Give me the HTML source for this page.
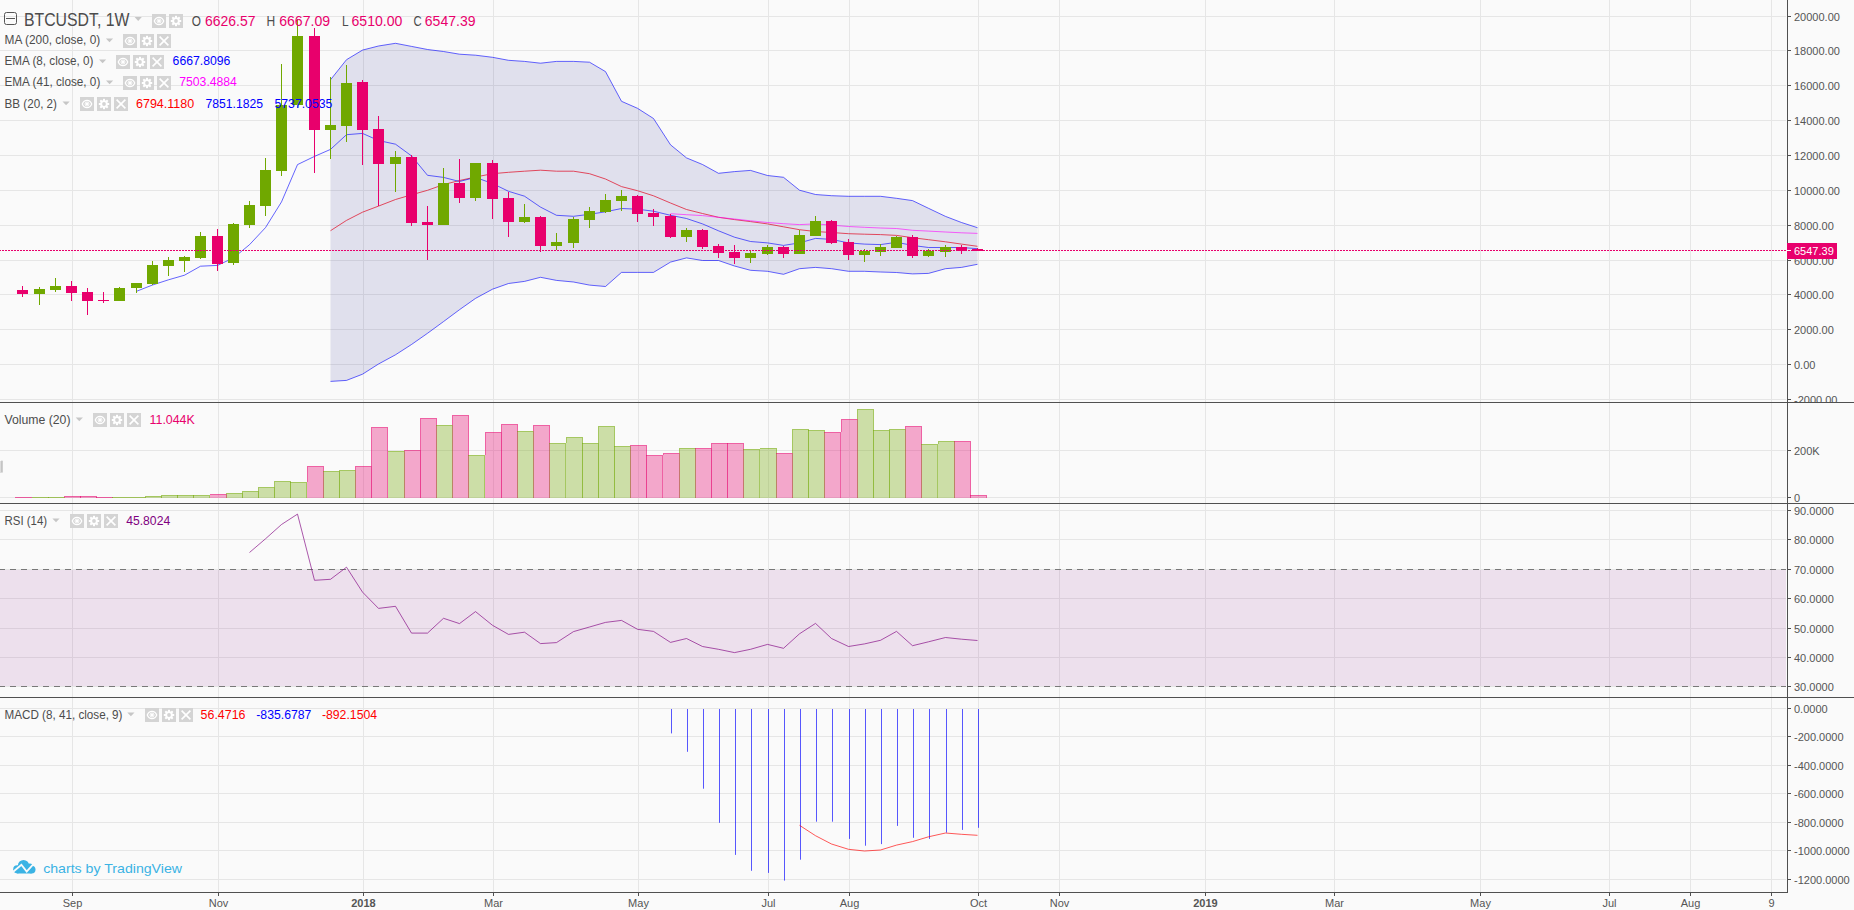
<!DOCTYPE html><html><head><meta charset="utf-8"><style>html,body{margin:0;padding:0;background:#fafafa;}svg{display:block;}text{font-family:"Liberation Sans",sans-serif;}</style></head><body>
<svg width="1854" height="910" viewBox="0 0 1854 910">
<rect x="0" y="0" width="1854" height="910" fill="#fafafa"/>
<defs><clipPath id="cMain"><rect x="0" y="0" width="1787" height="402"/></clipPath><clipPath id="cVol"><rect x="0" y="403" width="1787" height="100"/></clipPath><clipPath id="cRsi"><rect x="0" y="504" width="1787" height="193"/></clipPath><clipPath id="cMacd"><rect x="0" y="698" width="1787" height="194"/></clipPath><clipPath id="cAxMain"><rect x="1788" y="0" width="66" height="402"/></clipPath></defs>
<g fill="#e6e6e6"><rect x="72" y="0" width="1" height="892"/><rect x="218" y="0" width="1" height="892"/><rect x="363" y="0" width="1" height="892"/><rect x="493" y="0" width="1" height="892"/><rect x="638" y="0" width="1" height="892"/><rect x="768" y="0" width="1" height="892"/><rect x="849" y="0" width="1" height="892"/><rect x="978" y="0" width="1" height="892"/><rect x="1059" y="0" width="1" height="892"/><rect x="1205" y="0" width="1" height="892"/><rect x="1334" y="0" width="1" height="892"/><rect x="1480" y="0" width="1" height="892"/><rect x="1609" y="0" width="1" height="892"/><rect x="1690" y="0" width="1" height="892"/><rect x="1771" y="0" width="1" height="892"/><rect x="0" y="16" width="1786" height="1"/><rect x="0" y="50" width="1786" height="1"/><rect x="0" y="85" width="1786" height="1"/><rect x="0" y="120" width="1786" height="1"/><rect x="0" y="155" width="1786" height="1"/><rect x="0" y="190" width="1786" height="1"/><rect x="0" y="225" width="1786" height="1"/><rect x="0" y="260" width="1786" height="1"/><rect x="0" y="294" width="1786" height="1"/><rect x="0" y="329" width="1786" height="1"/><rect x="0" y="364" width="1786" height="1"/><rect x="0" y="399" width="1786" height="1"/><rect x="0" y="450" width="1786" height="1"/><rect x="0" y="497" width="1786" height="1"/><rect x="0" y="510" width="1786" height="1"/><rect x="0" y="539" width="1786" height="1"/><rect x="0" y="569" width="1786" height="1"/><rect x="0" y="598" width="1786" height="1"/><rect x="0" y="628" width="1786" height="1"/><rect x="0" y="657" width="1786" height="1"/><rect x="0" y="686" width="1786" height="1"/><rect x="0" y="708" width="1786" height="1"/><rect x="0" y="736" width="1786" height="1"/><rect x="0" y="765" width="1786" height="1"/><rect x="0" y="793" width="1786" height="1"/><rect x="0" y="822" width="1786" height="1"/><rect x="0" y="850" width="1786" height="1"/><rect x="0" y="879" width="1786" height="1"/></g>
<g clip-path="url(#cMain)">
<polygon points="330.5,79.8 346.5,59.7 362.5,50.1 378.5,46.0 395.5,43.3 411.5,46.4 427.5,49.5 443.5,51.5 459.5,54.2 475.5,55.2 492.5,57.3 508.5,60.3 524.5,61.4 540.5,63.2 556.5,61.4 573.5,61.4 589.5,62.2 605.5,71.6 621.5,101.3 637.5,108.3 653.5,118.5 670.5,144.8 686.5,157.9 702.5,164.5 718.5,173.3 734.5,171.6 750.5,170.4 767.5,175.5 783.5,177.3 799.5,190.2 815.5,194.5 831.5,195.7 848.5,196.3 864.5,196.3 880.5,196.3 896.5,198.3 912.5,200.6 928.5,208.3 945.5,216.4 961.5,222.5 977.5,227.7 977.5,264.3 961.5,267.4 945.5,268.7 928.5,273.4 912.5,273.9 896.5,272.5 880.5,272.0 864.5,271.3 848.5,271.3 831.5,268.7 815.5,267.4 799.5,268.7 783.5,274.3 767.5,271.3 750.5,270.3 734.5,266.0 718.5,260.5 702.5,260.5 686.5,257.9 670.5,262.1 653.5,272.4 637.5,272.4 621.5,272.4 605.5,286.5 589.5,285.1 573.5,282.0 556.5,280.4 540.5,277.3 524.5,281.4 508.5,283.5 492.5,289.2 475.5,298.4 459.5,309.7 443.5,321.6 427.5,333.3 411.5,344.5 395.5,354.8 378.5,364.0 362.5,374.2 346.5,380.4 330.5,381.4" fill="#000080" fill-opacity="0.1"/>
<polyline points="330.5,79.8 346.5,59.7 362.5,50.1 378.5,46.0 395.5,43.3 411.5,46.4 427.5,49.5 443.5,51.5 459.5,54.2 475.5,55.2 492.5,57.3 508.5,60.3 524.5,61.4 540.5,63.2 556.5,61.4 573.5,61.4 589.5,62.2 605.5,71.6 621.5,101.3 637.5,108.3 653.5,118.5 670.5,144.8 686.5,157.9 702.5,164.5 718.5,173.3 734.5,171.6 750.5,170.4 767.5,175.5 783.5,177.3 799.5,190.2 815.5,194.5 831.5,195.7 848.5,196.3 864.5,196.3 880.5,196.3 896.5,198.3 912.5,200.6 928.5,208.3 945.5,216.4 961.5,222.5 977.5,227.7" fill="none" stroke="#0000ff" stroke-opacity="0.6" stroke-width="1"/>
<polyline points="330.5,381.4 346.5,380.4 362.5,374.2 378.5,364.0 395.5,354.8 411.5,344.5 427.5,333.3 443.5,321.6 459.5,309.7 475.5,298.4 492.5,289.2 508.5,283.5 524.5,281.4 540.5,277.3 556.5,280.4 573.5,282.0 589.5,285.1 605.5,286.5 621.5,272.4 637.5,272.4 653.5,272.4 670.5,262.1 686.5,257.9 702.5,260.5 718.5,260.5 734.5,266.0 750.5,270.3 767.5,271.3 783.5,274.3 799.5,268.7 815.5,267.4 831.5,268.7 848.5,271.3 864.5,271.3 880.5,272.0 896.5,272.5 912.5,273.9 928.5,273.4 945.5,268.7 961.5,267.4 977.5,264.3" fill="none" stroke="#0000ff" stroke-opacity="0.6" stroke-width="1"/>
<polyline points="330.5,230.7 346.5,220.4 362.5,212.2 378.5,206.1 395.5,199.5 411.5,194.8 427.5,190.3 443.5,184.6 459.5,180.5 475.5,177.0 492.5,173.7 508.5,172.3 524.5,171.2 540.5,170.2 556.5,171.2 573.5,171.2 589.5,173.7 605.5,179.0 621.5,186.6 637.5,190.7 653.5,195.8 670.5,203.0 686.5,209.5 702.5,213.5 718.5,217.3 734.5,219.6 750.5,221.6 767.5,223.9 783.5,226.8 799.5,229.7 815.5,231.5 831.5,232.5 848.5,233.7 864.5,234.2 880.5,234.6 896.5,235.4 912.5,237.7 928.5,239.7 945.5,241.8 961.5,244.1 977.5,246.3" fill="none" stroke="#e02038" stroke-opacity="0.8" stroke-width="1"/>
<polyline points="136.5,291.3 152.5,285.0 168.5,279.8 184.5,275.2 200.5,266.2 217.5,265.4 233.5,257.9 249.5,244.7 265.5,227.6 281.5,201.9 297.5,164.6 314.5,156.4 330.5,149.4 346.5,134.7 362.5,133.4 378.5,140.5 395.5,144.2 411.5,155.9 427.5,175.3 443.5,177.4 459.5,181.5 475.5,177.4 492.5,183.5 508.5,191.3 524.5,196.2 540.5,207.1 556.5,215.3 573.5,216.3 589.5,214.3 605.5,211.8 621.5,208.5 637.5,209.2 653.5,211.2 670.5,215.3 686.5,218.5 702.5,223.9 718.5,230.8 734.5,237.2 750.5,241.5 767.5,242.9 783.5,245.4 799.5,242.9 815.5,238.4 831.5,239.4 848.5,242.9 864.5,244.1 880.5,244.6 896.5,242.3 912.5,245.4 928.5,247.5 945.5,247.5 961.5,247.5 977.5,248.7" fill="none" stroke="#0000ff" stroke-opacity="0.6" stroke-width="1"/>
<polyline points="670.5,213.7 686.5,214.7 702.5,215.6 718.5,217.3 734.5,219.0 750.5,220.8 767.5,222.5 783.5,223.7 799.5,224.6 815.5,223.9 831.5,225.1 848.5,226.5 864.5,227.3 880.5,228.0 896.5,228.5 912.5,230.3 928.5,231.1 945.5,232.0 961.5,232.8 977.5,233.4" fill="none" stroke="#ff00ff" stroke-opacity="0.6" stroke-width="1"/>
<rect x="22" y="286" width="1" height="11" fill="#e8006c"/><rect x="17" y="290" width="11" height="4" fill="#e8006c"/><rect x="39" y="287" width="1" height="18" fill="#70a800"/><rect x="34" y="289" width="11" height="5" fill="#70a800"/><rect x="55" y="278" width="1" height="14" fill="#70a800"/><rect x="50" y="286" width="11" height="4" fill="#70a800"/><rect x="71" y="281" width="1" height="20" fill="#e8006c"/><rect x="66" y="286" width="11" height="7" fill="#e8006c"/><rect x="87" y="288" width="1" height="27" fill="#e8006c"/><rect x="82" y="292" width="11" height="9" fill="#e8006c"/><rect x="103" y="292" width="1" height="11" fill="#e8006c"/><rect x="98" y="300" width="11" height="1" fill="#e8006c"/><rect x="119" y="287" width="1" height="14" fill="#70a800"/><rect x="114" y="288" width="11" height="13" fill="#70a800"/><rect x="136" y="283" width="1" height="10" fill="#70a800"/><rect x="131" y="283" width="11" height="5" fill="#70a800"/><rect x="152" y="261" width="1" height="24" fill="#70a800"/><rect x="147" y="265" width="11" height="19" fill="#70a800"/><rect x="168" y="257" width="1" height="19" fill="#70a800"/><rect x="163" y="260" width="11" height="6" fill="#70a800"/><rect x="184" y="256" width="1" height="16" fill="#70a800"/><rect x="179" y="257" width="11" height="4" fill="#70a800"/><rect x="200" y="232" width="1" height="27" fill="#70a800"/><rect x="195" y="236" width="11" height="22" fill="#70a800"/><rect x="217" y="229" width="1" height="42" fill="#e8006c"/><rect x="212" y="236" width="11" height="28" fill="#e8006c"/><rect x="233" y="223" width="1" height="42" fill="#70a800"/><rect x="228" y="224" width="11" height="39" fill="#70a800"/><rect x="249" y="201" width="1" height="27" fill="#70a800"/><rect x="244" y="205" width="11" height="20" fill="#70a800"/><rect x="265" y="158" width="1" height="58" fill="#70a800"/><rect x="260" y="170" width="11" height="36" fill="#70a800"/><rect x="281" y="64" width="1" height="112" fill="#70a800"/><rect x="276" y="105" width="11" height="66" fill="#70a800"/><rect x="297" y="19" width="1" height="89" fill="#70a800"/><rect x="292" y="36" width="11" height="69" fill="#70a800"/><rect x="314" y="28" width="1" height="145" fill="#e8006c"/><rect x="309" y="36" width="11" height="94" fill="#e8006c"/><rect x="330" y="77" width="1" height="82" fill="#70a800"/><rect x="325" y="125" width="11" height="5" fill="#70a800"/><rect x="346" y="65" width="1" height="77" fill="#70a800"/><rect x="341" y="83" width="11" height="43" fill="#70a800"/><rect x="362" y="80" width="1" height="85" fill="#e8006c"/><rect x="357" y="82" width="11" height="48" fill="#e8006c"/><rect x="378" y="116" width="1" height="90" fill="#e8006c"/><rect x="373" y="129" width="11" height="35" fill="#e8006c"/><rect x="395" y="151" width="1" height="41" fill="#70a800"/><rect x="390" y="157" width="11" height="7" fill="#70a800"/><rect x="411" y="155" width="1" height="71" fill="#e8006c"/><rect x="406" y="157" width="11" height="66" fill="#e8006c"/><rect x="427" y="206" width="1" height="54" fill="#e8006c"/><rect x="422" y="222" width="11" height="3" fill="#e8006c"/><rect x="443" y="168" width="1" height="57" fill="#70a800"/><rect x="438" y="183" width="11" height="42" fill="#70a800"/><rect x="459" y="159" width="1" height="44" fill="#e8006c"/><rect x="454" y="183" width="11" height="15" fill="#e8006c"/><rect x="475" y="163" width="1" height="38" fill="#70a800"/><rect x="470" y="163" width="11" height="35" fill="#70a800"/><rect x="492" y="160" width="1" height="59" fill="#e8006c"/><rect x="487" y="163" width="11" height="36" fill="#e8006c"/><rect x="508" y="192" width="1" height="45" fill="#e8006c"/><rect x="503" y="198" width="11" height="24" fill="#e8006c"/><rect x="524" y="204" width="1" height="19" fill="#70a800"/><rect x="519" y="217" width="11" height="5" fill="#70a800"/><rect x="540" y="216" width="1" height="36" fill="#e8006c"/><rect x="535" y="217" width="11" height="29" fill="#e8006c"/><rect x="556" y="233" width="1" height="17" fill="#70a800"/><rect x="551" y="242" width="11" height="4" fill="#70a800"/><rect x="573" y="217" width="1" height="31" fill="#70a800"/><rect x="568" y="219" width="11" height="24" fill="#70a800"/><rect x="589" y="207" width="1" height="21" fill="#70a800"/><rect x="584" y="211" width="11" height="9" fill="#70a800"/><rect x="605" y="194" width="1" height="19" fill="#70a800"/><rect x="600" y="200" width="11" height="12" fill="#70a800"/><rect x="621" y="190" width="1" height="21" fill="#70a800"/><rect x="616" y="196" width="11" height="5" fill="#70a800"/><rect x="637" y="195" width="1" height="27" fill="#e8006c"/><rect x="632" y="196" width="11" height="18" fill="#e8006c"/><rect x="653" y="209" width="1" height="17" fill="#e8006c"/><rect x="648" y="213" width="11" height="4" fill="#e8006c"/><rect x="670" y="214" width="1" height="24" fill="#e8006c"/><rect x="665" y="216" width="11" height="21" fill="#e8006c"/><rect x="686" y="228" width="1" height="14" fill="#70a800"/><rect x="681" y="230" width="11" height="7" fill="#70a800"/><rect x="702" y="229" width="1" height="20" fill="#e8006c"/><rect x="697" y="230" width="11" height="17" fill="#e8006c"/><rect x="718" y="244" width="1" height="14" fill="#e8006c"/><rect x="713" y="246" width="11" height="7" fill="#e8006c"/><rect x="734" y="245" width="1" height="19" fill="#e8006c"/><rect x="729" y="252" width="11" height="6" fill="#e8006c"/><rect x="750" y="251" width="1" height="12" fill="#70a800"/><rect x="745" y="253" width="11" height="5" fill="#70a800"/><rect x="767" y="245" width="1" height="10" fill="#70a800"/><rect x="762" y="247" width="11" height="7" fill="#70a800"/><rect x="783" y="246" width="1" height="12" fill="#e8006c"/><rect x="778" y="247" width="11" height="7" fill="#e8006c"/><rect x="799" y="230" width="1" height="24" fill="#70a800"/><rect x="794" y="235" width="11" height="19" fill="#70a800"/><rect x="815" y="216" width="1" height="20" fill="#70a800"/><rect x="810" y="221" width="11" height="15" fill="#70a800"/><rect x="831" y="220" width="1" height="24" fill="#e8006c"/><rect x="826" y="221" width="11" height="22" fill="#e8006c"/><rect x="848" y="239" width="1" height="21" fill="#e8006c"/><rect x="843" y="242" width="11" height="13" fill="#e8006c"/><rect x="864" y="249" width="1" height="13" fill="#70a800"/><rect x="859" y="251" width="11" height="4" fill="#70a800"/><rect x="880" y="244" width="1" height="12" fill="#70a800"/><rect x="875" y="247" width="11" height="5" fill="#70a800"/><rect x="896" y="236" width="1" height="12" fill="#70a800"/><rect x="891" y="237" width="11" height="11" fill="#70a800"/><rect x="912" y="235" width="1" height="23" fill="#e8006c"/><rect x="907" y="237" width="11" height="19" fill="#e8006c"/><rect x="928" y="249" width="1" height="8" fill="#70a800"/><rect x="923" y="251" width="11" height="5" fill="#70a800"/><rect x="945" y="245" width="1" height="12" fill="#70a800"/><rect x="940" y="247" width="11" height="5" fill="#70a800"/><rect x="961" y="245" width="1" height="9" fill="#e8006c"/><rect x="956" y="247" width="11" height="4" fill="#e8006c"/><rect x="977" y="248" width="1" height="3" fill="#e8006c"/><rect x="972" y="249" width="11" height="2" fill="#e8006c"/>
<line x1="-1" y1="250.5" x2="1787" y2="250.5" stroke="#e8006c" stroke-width="1" stroke-dasharray="2,1"/>
</g>
<g clip-path="url(#cVol)">
<rect x="15" y="497" width="17" height="1" fill="#e8006c" fill-opacity="0.33"/><g fill="#e8006c" fill-opacity="0.42"><rect x="15" y="497" width="17" height="1"/><rect x="31" y="498" width="1" height="0"/></g><rect x="32" y="497" width="17" height="1" fill="#70a800" fill-opacity="0.33"/><g fill="#70a800" fill-opacity="0.42"><rect x="32" y="497" width="17" height="1"/><rect x="48" y="498" width="1" height="0"/></g><rect x="48" y="497" width="17" height="1" fill="#70a800" fill-opacity="0.33"/><g fill="#70a800" fill-opacity="0.42"><rect x="48" y="497" width="17" height="1"/><rect x="64" y="498" width="1" height="0"/></g><rect x="64" y="496" width="17" height="2" fill="#e8006c" fill-opacity="0.33"/><g fill="#e8006c" fill-opacity="0.42"><rect x="64" y="496" width="17" height="1"/><rect x="80" y="497" width="1" height="1"/></g><rect x="80" y="496" width="17" height="2" fill="#e8006c" fill-opacity="0.33"/><g fill="#e8006c" fill-opacity="0.42"><rect x="80" y="496" width="17" height="1"/><rect x="96" y="497" width="1" height="1"/></g><rect x="96" y="497" width="17" height="1" fill="#e8006c" fill-opacity="0.33"/><g fill="#e8006c" fill-opacity="0.42"><rect x="96" y="497" width="17" height="1"/><rect x="112" y="498" width="1" height="0"/></g><rect x="112" y="497" width="17" height="1" fill="#70a800" fill-opacity="0.33"/><g fill="#70a800" fill-opacity="0.42"><rect x="112" y="497" width="17" height="1"/><rect x="128" y="498" width="1" height="0"/></g><rect x="129" y="497" width="17" height="1" fill="#70a800" fill-opacity="0.33"/><g fill="#70a800" fill-opacity="0.42"><rect x="129" y="497" width="17" height="1"/><rect x="145" y="498" width="1" height="0"/></g><rect x="145" y="496" width="17" height="2" fill="#70a800" fill-opacity="0.33"/><g fill="#70a800" fill-opacity="0.42"><rect x="145" y="496" width="17" height="1"/><rect x="161" y="497" width="1" height="1"/></g><rect x="161" y="495" width="17" height="3" fill="#70a800" fill-opacity="0.33"/><g fill="#70a800" fill-opacity="0.42"><rect x="161" y="495" width="17" height="1"/><rect x="177" y="496" width="1" height="2"/></g><rect x="177" y="495" width="17" height="3" fill="#70a800" fill-opacity="0.33"/><g fill="#70a800" fill-opacity="0.42"><rect x="177" y="495" width="17" height="1"/><rect x="193" y="496" width="1" height="2"/></g><rect x="193" y="495" width="17" height="3" fill="#70a800" fill-opacity="0.33"/><g fill="#70a800" fill-opacity="0.42"><rect x="193" y="495" width="17" height="1"/><rect x="209" y="496" width="1" height="2"/></g><rect x="210" y="494" width="17" height="4" fill="#e8006c" fill-opacity="0.33"/><g fill="#e8006c" fill-opacity="0.42"><rect x="210" y="494" width="17" height="1"/><rect x="226" y="495" width="1" height="3"/></g><rect x="226" y="493" width="17" height="5" fill="#70a800" fill-opacity="0.33"/><g fill="#70a800" fill-opacity="0.42"><rect x="226" y="493" width="17" height="1"/><rect x="242" y="494" width="1" height="4"/></g><rect x="242" y="491" width="17" height="7" fill="#70a800" fill-opacity="0.33"/><g fill="#70a800" fill-opacity="0.42"><rect x="242" y="491" width="17" height="1"/><rect x="258" y="492" width="1" height="6"/><rect x="242" y="492" width="1" height="1"/></g><rect x="258" y="487" width="17" height="11" fill="#70a800" fill-opacity="0.33"/><g fill="#70a800" fill-opacity="0.42"><rect x="258" y="487" width="17" height="1"/><rect x="274" y="488" width="1" height="10"/><rect x="258" y="488" width="1" height="3"/></g><rect x="274" y="481" width="17" height="17" fill="#70a800" fill-opacity="0.33"/><g fill="#70a800" fill-opacity="0.42"><rect x="274" y="481" width="17" height="1"/><rect x="290" y="482" width="1" height="16"/><rect x="274" y="482" width="1" height="5"/></g><rect x="290" y="482" width="17" height="16" fill="#70a800" fill-opacity="0.33"/><g fill="#70a800" fill-opacity="0.42"><rect x="290" y="482" width="17" height="1"/><rect x="306" y="483" width="1" height="15"/></g><rect x="307" y="466" width="17" height="32" fill="#e8006c" fill-opacity="0.33"/><g fill="#e8006c" fill-opacity="0.42"><rect x="307" y="466" width="17" height="1"/><rect x="323" y="467" width="1" height="31"/><rect x="307" y="467" width="1" height="15"/></g><rect x="323" y="471" width="17" height="27" fill="#70a800" fill-opacity="0.33"/><g fill="#70a800" fill-opacity="0.42"><rect x="323" y="471" width="17" height="1"/><rect x="339" y="472" width="1" height="26"/></g><rect x="339" y="470" width="17" height="28" fill="#70a800" fill-opacity="0.33"/><g fill="#70a800" fill-opacity="0.42"><rect x="339" y="470" width="17" height="1"/><rect x="355" y="471" width="1" height="27"/></g><rect x="355" y="466" width="17" height="32" fill="#e8006c" fill-opacity="0.33"/><g fill="#e8006c" fill-opacity="0.42"><rect x="355" y="466" width="17" height="1"/><rect x="371" y="467" width="1" height="31"/><rect x="355" y="467" width="1" height="3"/></g><rect x="371" y="427" width="17" height="71" fill="#e8006c" fill-opacity="0.33"/><g fill="#e8006c" fill-opacity="0.42"><rect x="371" y="427" width="17" height="1"/><rect x="387" y="428" width="1" height="70"/><rect x="371" y="428" width="1" height="38"/></g><rect x="388" y="451" width="17" height="47" fill="#70a800" fill-opacity="0.33"/><g fill="#70a800" fill-opacity="0.42"><rect x="388" y="451" width="17" height="1"/><rect x="404" y="452" width="1" height="46"/></g><rect x="404" y="450" width="17" height="48" fill="#e8006c" fill-opacity="0.33"/><g fill="#e8006c" fill-opacity="0.42"><rect x="404" y="450" width="17" height="1"/><rect x="420" y="451" width="1" height="47"/></g><rect x="420" y="418" width="17" height="80" fill="#e8006c" fill-opacity="0.33"/><g fill="#e8006c" fill-opacity="0.42"><rect x="420" y="418" width="17" height="1"/><rect x="436" y="419" width="1" height="79"/><rect x="420" y="419" width="1" height="31"/></g><rect x="436" y="425" width="17" height="73" fill="#70a800" fill-opacity="0.33"/><g fill="#70a800" fill-opacity="0.42"><rect x="436" y="425" width="17" height="1"/><rect x="452" y="426" width="1" height="72"/></g><rect x="452" y="415" width="17" height="83" fill="#e8006c" fill-opacity="0.33"/><g fill="#e8006c" fill-opacity="0.42"><rect x="452" y="415" width="17" height="1"/><rect x="468" y="416" width="1" height="82"/><rect x="452" y="416" width="1" height="9"/></g><rect x="468" y="455" width="17" height="43" fill="#70a800" fill-opacity="0.33"/><g fill="#70a800" fill-opacity="0.42"><rect x="468" y="455" width="17" height="1"/><rect x="484" y="456" width="1" height="42"/></g><rect x="485" y="432" width="17" height="66" fill="#e8006c" fill-opacity="0.33"/><g fill="#e8006c" fill-opacity="0.42"><rect x="485" y="432" width="17" height="1"/><rect x="501" y="433" width="1" height="65"/><rect x="485" y="433" width="1" height="22"/></g><rect x="501" y="424" width="17" height="74" fill="#e8006c" fill-opacity="0.33"/><g fill="#e8006c" fill-opacity="0.42"><rect x="501" y="424" width="17" height="1"/><rect x="517" y="425" width="1" height="73"/><rect x="501" y="425" width="1" height="7"/></g><rect x="517" y="431" width="17" height="67" fill="#70a800" fill-opacity="0.33"/><g fill="#70a800" fill-opacity="0.42"><rect x="517" y="431" width="17" height="1"/><rect x="533" y="432" width="1" height="66"/></g><rect x="533" y="425" width="17" height="73" fill="#e8006c" fill-opacity="0.33"/><g fill="#e8006c" fill-opacity="0.42"><rect x="533" y="425" width="17" height="1"/><rect x="549" y="426" width="1" height="72"/><rect x="533" y="426" width="1" height="5"/></g><rect x="549" y="443" width="17" height="55" fill="#70a800" fill-opacity="0.33"/><g fill="#70a800" fill-opacity="0.42"><rect x="549" y="443" width="17" height="1"/><rect x="565" y="444" width="1" height="54"/></g><rect x="566" y="437" width="17" height="61" fill="#70a800" fill-opacity="0.33"/><g fill="#70a800" fill-opacity="0.42"><rect x="566" y="437" width="17" height="1"/><rect x="582" y="438" width="1" height="60"/><rect x="566" y="438" width="1" height="5"/></g><rect x="582" y="443" width="17" height="55" fill="#70a800" fill-opacity="0.33"/><g fill="#70a800" fill-opacity="0.42"><rect x="582" y="443" width="17" height="1"/><rect x="598" y="444" width="1" height="54"/></g><rect x="598" y="426" width="17" height="72" fill="#70a800" fill-opacity="0.33"/><g fill="#70a800" fill-opacity="0.42"><rect x="598" y="426" width="17" height="1"/><rect x="614" y="427" width="1" height="71"/><rect x="598" y="427" width="1" height="16"/></g><rect x="614" y="446" width="17" height="52" fill="#70a800" fill-opacity="0.33"/><g fill="#70a800" fill-opacity="0.42"><rect x="614" y="446" width="17" height="1"/><rect x="630" y="447" width="1" height="51"/></g><rect x="630" y="445" width="17" height="53" fill="#e8006c" fill-opacity="0.33"/><g fill="#e8006c" fill-opacity="0.42"><rect x="630" y="445" width="17" height="1"/><rect x="646" y="446" width="1" height="52"/></g><rect x="646" y="455" width="17" height="43" fill="#e8006c" fill-opacity="0.33"/><g fill="#e8006c" fill-opacity="0.42"><rect x="646" y="455" width="17" height="1"/><rect x="662" y="456" width="1" height="42"/></g><rect x="663" y="453" width="17" height="45" fill="#e8006c" fill-opacity="0.33"/><g fill="#e8006c" fill-opacity="0.42"><rect x="663" y="453" width="17" height="1"/><rect x="679" y="454" width="1" height="44"/><rect x="663" y="454" width="1" height="1"/></g><rect x="679" y="448" width="17" height="50" fill="#70a800" fill-opacity="0.33"/><g fill="#70a800" fill-opacity="0.42"><rect x="679" y="448" width="17" height="1"/><rect x="695" y="449" width="1" height="49"/><rect x="679" y="449" width="1" height="4"/></g><rect x="695" y="448" width="17" height="50" fill="#e8006c" fill-opacity="0.33"/><g fill="#e8006c" fill-opacity="0.42"><rect x="695" y="448" width="17" height="1"/><rect x="711" y="449" width="1" height="49"/></g><rect x="711" y="443" width="17" height="55" fill="#e8006c" fill-opacity="0.33"/><g fill="#e8006c" fill-opacity="0.42"><rect x="711" y="443" width="17" height="1"/><rect x="727" y="444" width="1" height="54"/><rect x="711" y="444" width="1" height="4"/></g><rect x="727" y="443" width="17" height="55" fill="#e8006c" fill-opacity="0.33"/><g fill="#e8006c" fill-opacity="0.42"><rect x="727" y="443" width="17" height="1"/><rect x="743" y="444" width="1" height="54"/></g><rect x="743" y="449" width="17" height="49" fill="#70a800" fill-opacity="0.33"/><g fill="#70a800" fill-opacity="0.42"><rect x="743" y="449" width="17" height="1"/><rect x="759" y="450" width="1" height="48"/></g><rect x="760" y="448" width="17" height="50" fill="#70a800" fill-opacity="0.33"/><g fill="#70a800" fill-opacity="0.42"><rect x="760" y="448" width="17" height="1"/><rect x="776" y="449" width="1" height="49"/></g><rect x="776" y="453" width="17" height="45" fill="#e8006c" fill-opacity="0.33"/><g fill="#e8006c" fill-opacity="0.42"><rect x="776" y="453" width="17" height="1"/><rect x="792" y="454" width="1" height="44"/></g><rect x="792" y="429" width="17" height="69" fill="#70a800" fill-opacity="0.33"/><g fill="#70a800" fill-opacity="0.42"><rect x="792" y="429" width="17" height="1"/><rect x="808" y="430" width="1" height="68"/><rect x="792" y="430" width="1" height="23"/></g><rect x="808" y="430" width="17" height="68" fill="#70a800" fill-opacity="0.33"/><g fill="#70a800" fill-opacity="0.42"><rect x="808" y="430" width="17" height="1"/><rect x="824" y="431" width="1" height="67"/></g><rect x="824" y="432" width="17" height="66" fill="#e8006c" fill-opacity="0.33"/><g fill="#e8006c" fill-opacity="0.42"><rect x="824" y="432" width="17" height="1"/><rect x="840" y="433" width="1" height="65"/></g><rect x="841" y="419" width="17" height="79" fill="#e8006c" fill-opacity="0.33"/><g fill="#e8006c" fill-opacity="0.42"><rect x="841" y="419" width="17" height="1"/><rect x="857" y="420" width="1" height="78"/><rect x="841" y="420" width="1" height="12"/></g><rect x="857" y="409" width="17" height="89" fill="#70a800" fill-opacity="0.33"/><g fill="#70a800" fill-opacity="0.42"><rect x="857" y="409" width="17" height="1"/><rect x="873" y="410" width="1" height="88"/><rect x="857" y="410" width="1" height="9"/></g><rect x="873" y="430" width="17" height="68" fill="#70a800" fill-opacity="0.33"/><g fill="#70a800" fill-opacity="0.42"><rect x="873" y="430" width="17" height="1"/><rect x="889" y="431" width="1" height="67"/></g><rect x="889" y="429" width="17" height="69" fill="#70a800" fill-opacity="0.33"/><g fill="#70a800" fill-opacity="0.42"><rect x="889" y="429" width="17" height="1"/><rect x="905" y="430" width="1" height="68"/></g><rect x="905" y="426" width="17" height="72" fill="#e8006c" fill-opacity="0.33"/><g fill="#e8006c" fill-opacity="0.42"><rect x="905" y="426" width="17" height="1"/><rect x="921" y="427" width="1" height="71"/><rect x="905" y="427" width="1" height="2"/></g><rect x="921" y="444" width="17" height="54" fill="#70a800" fill-opacity="0.33"/><g fill="#70a800" fill-opacity="0.42"><rect x="921" y="444" width="17" height="1"/><rect x="937" y="445" width="1" height="53"/></g><rect x="938" y="441" width="17" height="57" fill="#70a800" fill-opacity="0.33"/><g fill="#70a800" fill-opacity="0.42"><rect x="938" y="441" width="17" height="1"/><rect x="954" y="442" width="1" height="56"/><rect x="938" y="442" width="1" height="2"/></g><rect x="954" y="441" width="17" height="57" fill="#e8006c" fill-opacity="0.33"/><g fill="#e8006c" fill-opacity="0.42"><rect x="954" y="441" width="17" height="1"/><rect x="970" y="442" width="1" height="56"/></g><rect x="970" y="495" width="17" height="3" fill="#e8006c" fill-opacity="0.33"/><g fill="#e8006c" fill-opacity="0.42"><rect x="970" y="495" width="17" height="1"/><rect x="986" y="496" width="1" height="2"/></g>
</g>
<g clip-path="url(#cRsi)">
<rect x="0" y="570" width="1786" height="116" fill="#800080" fill-opacity="0.1"/>
<line x1="-1" y1="569.5" x2="1786" y2="569.5" stroke="#787878" stroke-width="1" stroke-dasharray="6,5"/>
<line x1="-1" y1="686.5" x2="1786" y2="686.5" stroke="#787878" stroke-width="1" stroke-dasharray="6,5"/>
<polyline points="249.5,552.5 265.5,538.8 281.5,524.5 297.5,514.1 314.5,580.3 330.5,579.3 346.5,567.2 362.5,592.1 378.5,608.4 395.5,606.3 411.5,633.1 427.5,633.1 443.5,618.3 459.5,623.6 475.5,611.6 492.5,625.3 508.5,634.4 524.5,632.2 540.5,643.6 556.5,642.6 573.5,631.6 589.5,627.0 605.5,622.4 621.5,620.4 637.5,629.3 653.5,631.4 670.5,642.4 686.5,638.5 702.5,646.5 718.5,649.3 734.5,652.6 750.5,649.3 767.5,644.4 783.5,648.3 799.5,633.8 815.5,623.4 831.5,638.5 848.5,646.5 864.5,643.9 880.5,640.3 896.5,631.4 912.5,645.7 928.5,641.8 945.5,637.5 961.5,639.2 977.5,640.5" fill="none" stroke="#800080" stroke-opacity="0.65" stroke-width="1"/>
</g>
<g clip-path="url(#cMacd)">
<g fill="#0000ff" fill-opacity="0.65"><rect x="671" y="709" width="1" height="24.4"/><rect x="687" y="709" width="1" height="42.8"/><rect x="703" y="709" width="1" height="79.7"/><rect x="719" y="709" width="1" height="113.8"/><rect x="735" y="709" width="1" height="145.9"/><rect x="751" y="709" width="1" height="161.8"/><rect x="768" y="709" width="1" height="163.9"/><rect x="784" y="709" width="1" height="171.6"/><rect x="800" y="709" width="1" height="150.7"/><rect x="816" y="709" width="1" height="112.7"/><rect x="832" y="709" width="1" height="112.7"/><rect x="849" y="709" width="1" height="129.9"/><rect x="865" y="709" width="1" height="136.7"/><rect x="881" y="709" width="1" height="135.1"/><rect x="897" y="709" width="1" height="116.9"/><rect x="913" y="709" width="1" height="128.8"/><rect x="929" y="709" width="1" height="129.9"/><rect x="946" y="709" width="1" height="123.6"/><rect x="962" y="709" width="1" height="120.9"/><rect x="978" y="709" width="1" height="118.8"/></g>
<polyline points="799.5,825.3 815.5,835.7 831.5,844.0 848.5,849.3 864.5,851.0 880.5,850.0 896.5,845.1 912.5,841.6 928.5,836.8 945.5,833.0 961.5,834.3 977.5,835.3" fill="none" stroke="#ff0000" stroke-opacity="0.65" stroke-width="1"/>
</g>
<g fill="#505050">
<rect x="0" y="402" width="1854" height="1"/>
<rect x="0" y="503" width="1854" height="1"/>
<rect x="0" y="697" width="1854" height="1"/>
<rect x="0" y="892" width="1788" height="1"/>
<rect x="1787" y="0" width="1" height="893"/>
<rect x="1788" y="16" width="3" height="1"/>
<rect x="1788" y="50" width="3" height="1"/>
<rect x="1788" y="85" width="3" height="1"/>
<rect x="1788" y="120" width="3" height="1"/>
<rect x="1788" y="155" width="3" height="1"/>
<rect x="1788" y="190" width="3" height="1"/>
<rect x="1788" y="225" width="3" height="1"/>
<rect x="1788" y="260" width="3" height="1"/>
<rect x="1788" y="294" width="3" height="1"/>
<rect x="1788" y="329" width="3" height="1"/>
<rect x="1788" y="364" width="3" height="1"/>
<rect x="1788" y="399" width="3" height="1"/>
<rect x="1788" y="450" width="3" height="1"/>
<rect x="1788" y="497" width="3" height="1"/>
<rect x="1788" y="510" width="3" height="1"/>
<rect x="1788" y="539" width="3" height="1"/>
<rect x="1788" y="569" width="3" height="1"/>
<rect x="1788" y="598" width="3" height="1"/>
<rect x="1788" y="628" width="3" height="1"/>
<rect x="1788" y="657" width="3" height="1"/>
<rect x="1788" y="686" width="3" height="1"/>
<rect x="1788" y="708" width="3" height="1"/>
<rect x="1788" y="736" width="3" height="1"/>
<rect x="1788" y="765" width="3" height="1"/>
<rect x="1788" y="793" width="3" height="1"/>
<rect x="1788" y="822" width="3" height="1"/>
<rect x="1788" y="850" width="3" height="1"/>
<rect x="1788" y="879" width="3" height="1"/>
<rect x="72" y="893" width="1" height="3"/>
<rect x="218" y="893" width="1" height="3"/>
<rect x="363" y="893" width="1" height="3"/>
<rect x="493" y="893" width="1" height="3"/>
<rect x="638" y="893" width="1" height="3"/>
<rect x="768" y="893" width="1" height="3"/>
<rect x="849" y="893" width="1" height="3"/>
<rect x="978" y="893" width="1" height="3"/>
<rect x="1059" y="893" width="1" height="3"/>
<rect x="1205" y="893" width="1" height="3"/>
<rect x="1334" y="893" width="1" height="3"/>
<rect x="1480" y="893" width="1" height="3"/>
<rect x="1609" y="893" width="1" height="3"/>
<rect x="1690" y="893" width="1" height="3"/>
<rect x="1771" y="893" width="1" height="3"/>
</g>
<g clip-path="url(#cAxMain)">
<text x="1794" y="21" font-size="11" fill="#555555">20000.00</text>
<text x="1794" y="55" font-size="11" fill="#555555">18000.00</text>
<text x="1794" y="90" font-size="11" fill="#555555">16000.00</text>
<text x="1794" y="125" font-size="11" fill="#555555">14000.00</text>
<text x="1794" y="160" font-size="11" fill="#555555">12000.00</text>
<text x="1794" y="195" font-size="11" fill="#555555">10000.00</text>
<text x="1794" y="230" font-size="11" fill="#555555">8000.00</text>
<text x="1794" y="265" font-size="11" fill="#555555">6000.00</text>
<text x="1794" y="299" font-size="11" fill="#555555">4000.00</text>
<text x="1794" y="334" font-size="11" fill="#555555">2000.00</text>
<text x="1794" y="369" font-size="11" fill="#555555">0.00</text>
<text x="1794" y="404" font-size="11" fill="#555555">-2000.00</text>
</g>
<text x="1794" y="455" font-size="11" fill="#555555">200K</text>
<text x="1794" y="502" font-size="11" fill="#555555">0</text>
<text x="1794" y="515" font-size="11" fill="#555555">90.0000</text>
<text x="1794" y="544" font-size="11" fill="#555555">80.0000</text>
<text x="1794" y="574" font-size="11" fill="#555555">70.0000</text>
<text x="1794" y="603" font-size="11" fill="#555555">60.0000</text>
<text x="1794" y="633" font-size="11" fill="#555555">50.0000</text>
<text x="1794" y="662" font-size="11" fill="#555555">40.0000</text>
<text x="1794" y="691" font-size="11" fill="#555555">30.0000</text>
<text x="1794" y="713" font-size="11" fill="#555555">0.0000</text>
<text x="1794" y="741" font-size="11" fill="#555555">-200.0000</text>
<text x="1794" y="770" font-size="11" fill="#555555">-400.0000</text>
<text x="1794" y="798" font-size="11" fill="#555555">-600.0000</text>
<text x="1794" y="827" font-size="11" fill="#555555">-800.0000</text>
<text x="1794" y="855" font-size="11" fill="#555555">-1000.0000</text>
<text x="1794" y="884" font-size="11" fill="#555555">-1200.0000</text>
<rect x="1787" y="243" width="50" height="16" fill="#e8006c"/>
<rect x="1787" y="250" width="4" height="1" fill="#ffffff"/>
<text x="1794" y="255" font-size="11" fill="#ffffff">6547.39</text>
<text x="72.5" y="907" font-size="11" fill="#555555" text-anchor="middle">Sep</text>
<text x="218.5" y="907" font-size="11" fill="#555555" text-anchor="middle">Nov</text>
<text x="363.5" y="907" font-size="11" fill="#555555" text-anchor="middle" font-weight="bold">2018</text>
<text x="493.5" y="907" font-size="11" fill="#555555" text-anchor="middle">Mar</text>
<text x="638.5" y="907" font-size="11" fill="#555555" text-anchor="middle">May</text>
<text x="768.5" y="907" font-size="11" fill="#555555" text-anchor="middle">Jul</text>
<text x="849.5" y="907" font-size="11" fill="#555555" text-anchor="middle">Aug</text>
<text x="978.5" y="907" font-size="11" fill="#555555" text-anchor="middle">Oct</text>
<text x="1059.5" y="907" font-size="11" fill="#555555" text-anchor="middle">Nov</text>
<text x="1205.5" y="907" font-size="11" fill="#555555" text-anchor="middle" font-weight="bold">2019</text>
<text x="1334.5" y="907" font-size="11" fill="#555555" text-anchor="middle">Mar</text>
<text x="1480.5" y="907" font-size="11" fill="#555555" text-anchor="middle">May</text>
<text x="1609.5" y="907" font-size="11" fill="#555555" text-anchor="middle">Jul</text>
<text x="1690.5" y="907" font-size="11" fill="#555555" text-anchor="middle">Aug</text>
<text x="1771.5" y="907" font-size="11" fill="#555555" text-anchor="middle">9</text>
<rect x="4.5" y="12.5" width="12" height="12" rx="2" ry="2" fill="none" stroke="#555" stroke-width="1"/><rect x="6" y="18" width="9" height="1" fill="#555"/><text x="24.0" y="25.8" font-size="18" fill="#4c4c4c" textLength="105.4" lengthAdjust="spacingAndGlyphs">BTCUSDT, 1W</text><polygon points="134.6,17.0 141.8,17.0 138.2,21.0" fill="#c6c6c6"/><rect x="152" y="14" width="14" height="14" fill="#d4d4d4"/><path d="M154.30 21.00 C156.20 16.20 161.80 16.20 163.70 21.00 C161.80 25.80 156.20 25.80 154.30 21.00 Z" fill="none" stroke="#fff" stroke-width="1.3" stroke-linejoin="round"/><circle cx="159.0" cy="21.0" r="2" fill="none" stroke="#fff" stroke-width="1"/><rect x="158.0" y="20.0" width="2" height="2" fill="#fff"/><rect x="169" y="14" width="14" height="14" fill="#d4d4d4"/><circle cx="176.0" cy="21.0" r="3.8" fill="#fff"/><rect x="175.00" y="15.80" width="2" height="2.4" fill="#fff" transform="rotate(0 176.0 21.0)"/><rect x="175.00" y="15.80" width="2" height="2.4" fill="#fff" transform="rotate(45 176.0 21.0)"/><rect x="175.00" y="15.80" width="2" height="2.4" fill="#fff" transform="rotate(90 176.0 21.0)"/><rect x="175.00" y="15.80" width="2" height="2.4" fill="#fff" transform="rotate(135 176.0 21.0)"/><rect x="175.00" y="15.80" width="2" height="2.4" fill="#fff" transform="rotate(180 176.0 21.0)"/><rect x="175.00" y="15.80" width="2" height="2.4" fill="#fff" transform="rotate(225 176.0 21.0)"/><rect x="175.00" y="15.80" width="2" height="2.4" fill="#fff" transform="rotate(270 176.0 21.0)"/><rect x="175.00" y="15.80" width="2" height="2.4" fill="#fff" transform="rotate(315 176.0 21.0)"/><circle cx="176.0" cy="21.0" r="1.9" fill="#d4d4d4"/><text x="191.8" y="25.8" font-size="15" fill="#4c4c4c" textLength="9.2" lengthAdjust="spacingAndGlyphs">O</text><text x="266.6" y="25.8" font-size="15" fill="#4c4c4c" textLength="8.7" lengthAdjust="spacingAndGlyphs">H</text><text x="341.9" y="25.8" font-size="15" fill="#4c4c4c" textLength="6.6" lengthAdjust="spacingAndGlyphs">L</text><text x="413.6" y="25.8" font-size="15" fill="#4c4c4c" textLength="8.2" lengthAdjust="spacingAndGlyphs">C</text><text x="205.0" y="25.8" font-size="15" fill="#e8006c" textLength="50.4" lengthAdjust="spacingAndGlyphs">6626.57</text><text x="279.2" y="25.8" font-size="15" fill="#e8006c" textLength="50.9" lengthAdjust="spacingAndGlyphs">6667.09</text><text x="351.5" y="25.8" font-size="15" fill="#e8006c" textLength="50.9" lengthAdjust="spacingAndGlyphs">6510.00</text><text x="424.8" y="25.8" font-size="15" fill="#e8006c" textLength="50.7" lengthAdjust="spacingAndGlyphs">6547.39</text><text x="4.5" y="44.2" font-size="12" fill="#4c4c4c" textLength="95.8" lengthAdjust="spacingAndGlyphs">MA (200, close, 0)</text><polygon points="105.9,38.4 113.1,38.4 109.5,42.3" fill="#c6c6c6"/><rect x="123" y="34" width="14" height="14" fill="#d4d4d4"/><path d="M125.30 41.00 C127.20 36.20 132.80 36.20 134.70 41.00 C132.80 45.80 127.20 45.80 125.30 41.00 Z" fill="none" stroke="#fff" stroke-width="1.3" stroke-linejoin="round"/><circle cx="130.0" cy="41.0" r="2" fill="none" stroke="#fff" stroke-width="1"/><rect x="129.0" y="40.0" width="2" height="2" fill="#fff"/><rect x="140" y="34" width="14" height="14" fill="#d4d4d4"/><circle cx="147.0" cy="41.0" r="3.8" fill="#fff"/><rect x="146.00" y="35.80" width="2" height="2.4" fill="#fff" transform="rotate(0 147.0 41.0)"/><rect x="146.00" y="35.80" width="2" height="2.4" fill="#fff" transform="rotate(45 147.0 41.0)"/><rect x="146.00" y="35.80" width="2" height="2.4" fill="#fff" transform="rotate(90 147.0 41.0)"/><rect x="146.00" y="35.80" width="2" height="2.4" fill="#fff" transform="rotate(135 147.0 41.0)"/><rect x="146.00" y="35.80" width="2" height="2.4" fill="#fff" transform="rotate(180 147.0 41.0)"/><rect x="146.00" y="35.80" width="2" height="2.4" fill="#fff" transform="rotate(225 147.0 41.0)"/><rect x="146.00" y="35.80" width="2" height="2.4" fill="#fff" transform="rotate(270 147.0 41.0)"/><rect x="146.00" y="35.80" width="2" height="2.4" fill="#fff" transform="rotate(315 147.0 41.0)"/><circle cx="147.0" cy="41.0" r="1.9" fill="#d4d4d4"/><rect x="157" y="34" width="14" height="14" fill="#d4d4d4"/><path d="M159.6 36.6 L168.4 45.4 M168.4 36.6 L159.6 45.4" stroke="#fff" stroke-width="1.6"/><text x="4.5" y="65.0" font-size="12" fill="#4c4c4c" textLength="89.0" lengthAdjust="spacingAndGlyphs">EMA (8, close, 0)</text><polygon points="99.0,59.4 106.2,59.4 102.6,63.3" fill="#c6c6c6"/><rect x="116" y="55" width="14" height="14" fill="#d4d4d4"/><path d="M118.30 62.00 C120.20 57.20 125.80 57.20 127.70 62.00 C125.80 66.80 120.20 66.80 118.30 62.00 Z" fill="none" stroke="#fff" stroke-width="1.3" stroke-linejoin="round"/><circle cx="123.0" cy="62.0" r="2" fill="none" stroke="#fff" stroke-width="1"/><rect x="122.0" y="61.0" width="2" height="2" fill="#fff"/><rect x="133" y="55" width="14" height="14" fill="#d4d4d4"/><circle cx="140.0" cy="62.0" r="3.8" fill="#fff"/><rect x="139.00" y="56.80" width="2" height="2.4" fill="#fff" transform="rotate(0 140.0 62.0)"/><rect x="139.00" y="56.80" width="2" height="2.4" fill="#fff" transform="rotate(45 140.0 62.0)"/><rect x="139.00" y="56.80" width="2" height="2.4" fill="#fff" transform="rotate(90 140.0 62.0)"/><rect x="139.00" y="56.80" width="2" height="2.4" fill="#fff" transform="rotate(135 140.0 62.0)"/><rect x="139.00" y="56.80" width="2" height="2.4" fill="#fff" transform="rotate(180 140.0 62.0)"/><rect x="139.00" y="56.80" width="2" height="2.4" fill="#fff" transform="rotate(225 140.0 62.0)"/><rect x="139.00" y="56.80" width="2" height="2.4" fill="#fff" transform="rotate(270 140.0 62.0)"/><rect x="139.00" y="56.80" width="2" height="2.4" fill="#fff" transform="rotate(315 140.0 62.0)"/><circle cx="140.0" cy="62.0" r="1.9" fill="#d4d4d4"/><rect x="150" y="55" width="14" height="14" fill="#d4d4d4"/><path d="M152.6 57.6 L161.4 66.4 M161.4 57.6 L152.6 66.4" stroke="#fff" stroke-width="1.6"/><text x="172.6" y="65.0" font-size="12" fill="#0000ff" textLength="57.8" lengthAdjust="spacingAndGlyphs">6667.8096</text><text x="4.5" y="86.0" font-size="12" fill="#4c4c4c" textLength="95.8" lengthAdjust="spacingAndGlyphs">EMA (41, close, 0)</text><polygon points="106.0,80.4 113.2,80.4 109.6,84.3" fill="#c6c6c6"/><rect x="123" y="76" width="14" height="14" fill="#d4d4d4"/><path d="M125.30 83.00 C127.20 78.20 132.80 78.20 134.70 83.00 C132.80 87.80 127.20 87.80 125.30 83.00 Z" fill="none" stroke="#fff" stroke-width="1.3" stroke-linejoin="round"/><circle cx="130.0" cy="83.0" r="2" fill="none" stroke="#fff" stroke-width="1"/><rect x="129.0" y="82.0" width="2" height="2" fill="#fff"/><rect x="140" y="76" width="14" height="14" fill="#d4d4d4"/><circle cx="147.0" cy="83.0" r="3.8" fill="#fff"/><rect x="146.00" y="77.80" width="2" height="2.4" fill="#fff" transform="rotate(0 147.0 83.0)"/><rect x="146.00" y="77.80" width="2" height="2.4" fill="#fff" transform="rotate(45 147.0 83.0)"/><rect x="146.00" y="77.80" width="2" height="2.4" fill="#fff" transform="rotate(90 147.0 83.0)"/><rect x="146.00" y="77.80" width="2" height="2.4" fill="#fff" transform="rotate(135 147.0 83.0)"/><rect x="146.00" y="77.80" width="2" height="2.4" fill="#fff" transform="rotate(180 147.0 83.0)"/><rect x="146.00" y="77.80" width="2" height="2.4" fill="#fff" transform="rotate(225 147.0 83.0)"/><rect x="146.00" y="77.80" width="2" height="2.4" fill="#fff" transform="rotate(270 147.0 83.0)"/><rect x="146.00" y="77.80" width="2" height="2.4" fill="#fff" transform="rotate(315 147.0 83.0)"/><circle cx="147.0" cy="83.0" r="1.9" fill="#d4d4d4"/><rect x="157" y="76" width="14" height="14" fill="#d4d4d4"/><path d="M159.6 78.6 L168.4 87.4 M168.4 78.6 L159.6 87.4" stroke="#fff" stroke-width="1.6"/><text x="179.3" y="86.0" font-size="12" fill="#ff00ff" textLength="57.6" lengthAdjust="spacingAndGlyphs">7503.4884</text><text x="4.5" y="107.7" font-size="12" fill="#4c4c4c" textLength="52.5" lengthAdjust="spacingAndGlyphs">BB (20, 2)</text><polygon points="62.5,101.4 69.7,101.4 66.1,105.3" fill="#c6c6c6"/><rect x="80" y="97" width="14" height="14" fill="#d4d4d4"/><path d="M82.30 104.00 C84.20 99.20 89.80 99.20 91.70 104.00 C89.80 108.80 84.20 108.80 82.30 104.00 Z" fill="none" stroke="#fff" stroke-width="1.3" stroke-linejoin="round"/><circle cx="87.0" cy="104.0" r="2" fill="none" stroke="#fff" stroke-width="1"/><rect x="86.0" y="103.0" width="2" height="2" fill="#fff"/><rect x="97" y="97" width="14" height="14" fill="#d4d4d4"/><circle cx="104.0" cy="104.0" r="3.8" fill="#fff"/><rect x="103.00" y="98.80" width="2" height="2.4" fill="#fff" transform="rotate(0 104.0 104.0)"/><rect x="103.00" y="98.80" width="2" height="2.4" fill="#fff" transform="rotate(45 104.0 104.0)"/><rect x="103.00" y="98.80" width="2" height="2.4" fill="#fff" transform="rotate(90 104.0 104.0)"/><rect x="103.00" y="98.80" width="2" height="2.4" fill="#fff" transform="rotate(135 104.0 104.0)"/><rect x="103.00" y="98.80" width="2" height="2.4" fill="#fff" transform="rotate(180 104.0 104.0)"/><rect x="103.00" y="98.80" width="2" height="2.4" fill="#fff" transform="rotate(225 104.0 104.0)"/><rect x="103.00" y="98.80" width="2" height="2.4" fill="#fff" transform="rotate(270 104.0 104.0)"/><rect x="103.00" y="98.80" width="2" height="2.4" fill="#fff" transform="rotate(315 104.0 104.0)"/><circle cx="104.0" cy="104.0" r="1.9" fill="#d4d4d4"/><rect x="114" y="97" width="14" height="14" fill="#d4d4d4"/><path d="M116.6 99.6 L125.4 108.4 M125.4 99.6 L116.6 108.4" stroke="#fff" stroke-width="1.6"/><text x="136.0" y="107.7" font-size="12" fill="#ff0000" textLength="58.2" lengthAdjust="spacingAndGlyphs">6794.1180</text><text x="205.5" y="107.7" font-size="12" fill="#0000ff" textLength="57.5" lengthAdjust="spacingAndGlyphs">7851.1825</text><text x="274.5" y="107.7" font-size="12" fill="#0000ff" textLength="57.8" lengthAdjust="spacingAndGlyphs">5737.0535</text><text x="4.5" y="424.4" font-size="12" fill="#4c4c4c" textLength="66.0" lengthAdjust="spacingAndGlyphs">Volume (20)</text><polygon points="75.7,417.4 82.9,417.4 79.3,421.3" fill="#c6c6c6"/><rect x="93" y="413" width="14" height="14" fill="#d4d4d4"/><path d="M95.30 420.00 C97.20 415.20 102.80 415.20 104.70 420.00 C102.80 424.80 97.20 424.80 95.30 420.00 Z" fill="none" stroke="#fff" stroke-width="1.3" stroke-linejoin="round"/><circle cx="100.0" cy="420.0" r="2" fill="none" stroke="#fff" stroke-width="1"/><rect x="99.0" y="419.0" width="2" height="2" fill="#fff"/><rect x="110" y="413" width="14" height="14" fill="#d4d4d4"/><circle cx="117.0" cy="420.0" r="3.8" fill="#fff"/><rect x="116.00" y="414.80" width="2" height="2.4" fill="#fff" transform="rotate(0 117.0 420.0)"/><rect x="116.00" y="414.80" width="2" height="2.4" fill="#fff" transform="rotate(45 117.0 420.0)"/><rect x="116.00" y="414.80" width="2" height="2.4" fill="#fff" transform="rotate(90 117.0 420.0)"/><rect x="116.00" y="414.80" width="2" height="2.4" fill="#fff" transform="rotate(135 117.0 420.0)"/><rect x="116.00" y="414.80" width="2" height="2.4" fill="#fff" transform="rotate(180 117.0 420.0)"/><rect x="116.00" y="414.80" width="2" height="2.4" fill="#fff" transform="rotate(225 117.0 420.0)"/><rect x="116.00" y="414.80" width="2" height="2.4" fill="#fff" transform="rotate(270 117.0 420.0)"/><rect x="116.00" y="414.80" width="2" height="2.4" fill="#fff" transform="rotate(315 117.0 420.0)"/><circle cx="117.0" cy="420.0" r="1.9" fill="#d4d4d4"/><rect x="127" y="413" width="14" height="14" fill="#d4d4d4"/><path d="M129.6 415.6 L138.4 424.4 M138.4 415.6 L129.6 424.4" stroke="#fff" stroke-width="1.6"/><text x="149.5" y="424.4" font-size="12" fill="#e8006c" textLength="45.3" lengthAdjust="spacingAndGlyphs">11.044K</text><text x="4.5" y="525.0" font-size="12" fill="#4c4c4c" textLength="42.7" lengthAdjust="spacingAndGlyphs">RSI (14)</text><polygon points="52.4,518.4 59.6,518.4 56.0,522.3" fill="#c6c6c6"/><rect x="70" y="514" width="14" height="14" fill="#d4d4d4"/><path d="M72.30 521.00 C74.20 516.20 79.80 516.20 81.70 521.00 C79.80 525.80 74.20 525.80 72.30 521.00 Z" fill="none" stroke="#fff" stroke-width="1.3" stroke-linejoin="round"/><circle cx="77.0" cy="521.0" r="2" fill="none" stroke="#fff" stroke-width="1"/><rect x="76.0" y="520.0" width="2" height="2" fill="#fff"/><rect x="87" y="514" width="14" height="14" fill="#d4d4d4"/><circle cx="94.0" cy="521.0" r="3.8" fill="#fff"/><rect x="93.00" y="515.80" width="2" height="2.4" fill="#fff" transform="rotate(0 94.0 521.0)"/><rect x="93.00" y="515.80" width="2" height="2.4" fill="#fff" transform="rotate(45 94.0 521.0)"/><rect x="93.00" y="515.80" width="2" height="2.4" fill="#fff" transform="rotate(90 94.0 521.0)"/><rect x="93.00" y="515.80" width="2" height="2.4" fill="#fff" transform="rotate(135 94.0 521.0)"/><rect x="93.00" y="515.80" width="2" height="2.4" fill="#fff" transform="rotate(180 94.0 521.0)"/><rect x="93.00" y="515.80" width="2" height="2.4" fill="#fff" transform="rotate(225 94.0 521.0)"/><rect x="93.00" y="515.80" width="2" height="2.4" fill="#fff" transform="rotate(270 94.0 521.0)"/><rect x="93.00" y="515.80" width="2" height="2.4" fill="#fff" transform="rotate(315 94.0 521.0)"/><circle cx="94.0" cy="521.0" r="1.9" fill="#d4d4d4"/><rect x="104" y="514" width="14" height="14" fill="#d4d4d4"/><path d="M106.6 516.6 L115.4 525.4 M115.4 516.6 L106.6 525.4" stroke="#fff" stroke-width="1.6"/><text x="126.2" y="525.0" font-size="12" fill="#800080" textLength="44.0" lengthAdjust="spacingAndGlyphs">45.8024</text><text x="4.5" y="719.0" font-size="12" fill="#4c4c4c" textLength="118.0" lengthAdjust="spacingAndGlyphs">MACD (8, 41, close, 9)</text><polygon points="127.3,712.4 134.5,712.4 130.9,716.3" fill="#c6c6c6"/><rect x="145" y="708" width="14" height="14" fill="#d4d4d4"/><path d="M147.30 715.00 C149.20 710.20 154.80 710.20 156.70 715.00 C154.80 719.80 149.20 719.80 147.30 715.00 Z" fill="none" stroke="#fff" stroke-width="1.3" stroke-linejoin="round"/><circle cx="152.0" cy="715.0" r="2" fill="none" stroke="#fff" stroke-width="1"/><rect x="151.0" y="714.0" width="2" height="2" fill="#fff"/><rect x="162" y="708" width="14" height="14" fill="#d4d4d4"/><circle cx="169.0" cy="715.0" r="3.8" fill="#fff"/><rect x="168.00" y="709.80" width="2" height="2.4" fill="#fff" transform="rotate(0 169.0 715.0)"/><rect x="168.00" y="709.80" width="2" height="2.4" fill="#fff" transform="rotate(45 169.0 715.0)"/><rect x="168.00" y="709.80" width="2" height="2.4" fill="#fff" transform="rotate(90 169.0 715.0)"/><rect x="168.00" y="709.80" width="2" height="2.4" fill="#fff" transform="rotate(135 169.0 715.0)"/><rect x="168.00" y="709.80" width="2" height="2.4" fill="#fff" transform="rotate(180 169.0 715.0)"/><rect x="168.00" y="709.80" width="2" height="2.4" fill="#fff" transform="rotate(225 169.0 715.0)"/><rect x="168.00" y="709.80" width="2" height="2.4" fill="#fff" transform="rotate(270 169.0 715.0)"/><rect x="168.00" y="709.80" width="2" height="2.4" fill="#fff" transform="rotate(315 169.0 715.0)"/><circle cx="169.0" cy="715.0" r="1.9" fill="#d4d4d4"/><rect x="179" y="708" width="14" height="14" fill="#d4d4d4"/><path d="M181.6 710.6 L190.4 719.4 M190.4 710.6 L181.6 719.4" stroke="#fff" stroke-width="1.6"/><text x="200.6" y="719.0" font-size="12" fill="#ff0000" textLength="44.9" lengthAdjust="spacingAndGlyphs">56.4716</text><text x="256.3" y="719.0" font-size="12" fill="#0000ff" textLength="55.0" lengthAdjust="spacingAndGlyphs">-835.6787</text><text x="321.9" y="719.0" font-size="12" fill="#ff0000" textLength="55.2" lengthAdjust="spacingAndGlyphs">-892.1504</text>
<rect x="0" y="461" width="1" height="12" fill="#dcdcdc"/><rect x="1" y="460.5" width="1.8" height="12.3" rx="0.8" fill="#c4c4c4"/>
<g fill="#3bb3e4"><circle cx="23.5" cy="865.5" r="5.6"/><circle cx="17.3" cy="869.3" r="4.1"/><circle cx="31.6" cy="869.6" r="3.9"/><circle cx="29.8" cy="866.6" r="3.1"/><rect x="17.3" y="866" width="14.3" height="7.5"/></g>
<polyline points="13.2,871.7 21.4,864.7 26.7,871.5 33.8,863.6" fill="none" stroke="#fafafa" stroke-width="1.8" stroke-linejoin="miter" stroke-miterlimit="10"/>
<text x="43.2" y="873" font-size="13.4" fill="#3bb3e4" textLength="138.8" lengthAdjust="spacingAndGlyphs">charts by TradingView</text>
</svg></body></html>
